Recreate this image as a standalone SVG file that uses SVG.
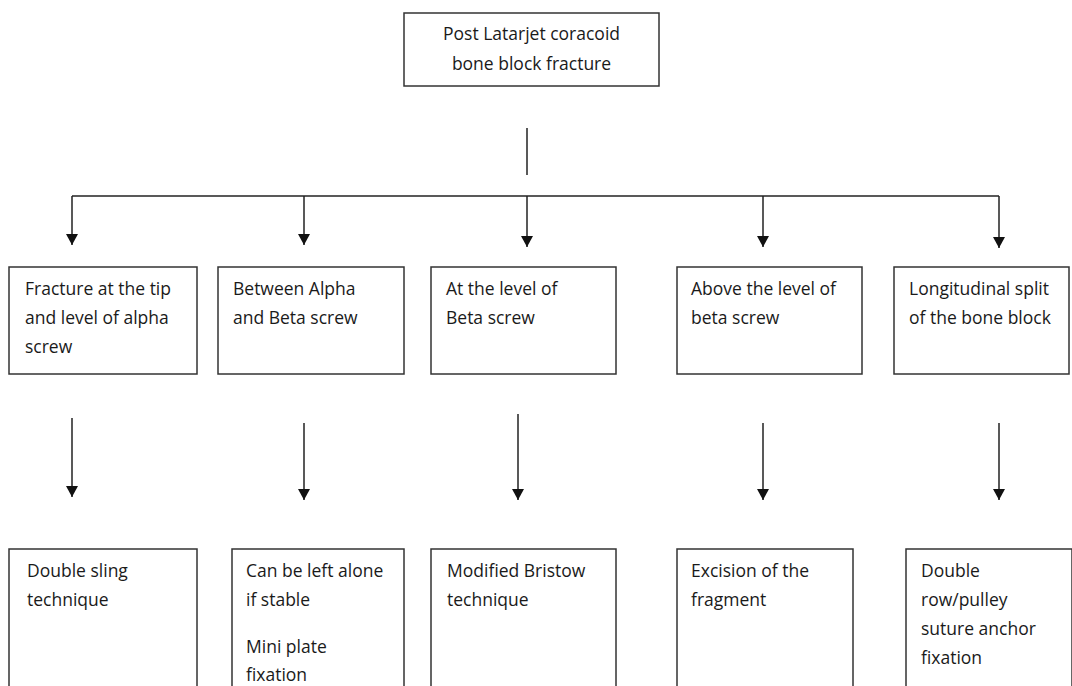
<svg xmlns="http://www.w3.org/2000/svg" width="1072" height="686" viewBox="0 0 1072 686">
<style>
.box{fill:#fff;stroke:#333;stroke-width:1.5}
.t{font-family:"Open Sans","Liberation Sans",sans-serif;font-size:17.5px;fill:#1a1a1a}
.c{text-anchor:middle}
.ln{fill:none;stroke:#222;stroke-width:1.5}
</style>
<defs>
<marker id="ah" markerWidth="12" markerHeight="12" refX="11" refY="6" orient="auto" markerUnits="userSpaceOnUse" viewBox="0 0 12 12">
<path d="M0,0 L11,6 L0,12 Z" fill="#111"/>
</marker>
</defs>
<rect width="1072" height="686" fill="#fff"/>
<g id="connectors">
<line class="ln" x1="527" y1="128" x2="527" y2="175"/>
<polyline class="ln" points="72,196 999,196"/>
<line class="ln" x1="72" y1="196" x2="72" y2="245" marker-end="url(#ah)"/>
<line class="ln" x1="304" y1="196" x2="304" y2="245" marker-end="url(#ah)"/>
<line class="ln" x1="527" y1="196" x2="527" y2="247" marker-end="url(#ah)"/>
<line class="ln" x1="763" y1="196" x2="763" y2="247" marker-end="url(#ah)"/>
<line class="ln" x1="999" y1="196" x2="999" y2="248" marker-end="url(#ah)"/>
<line class="ln" x1="72" y1="418" x2="72" y2="497" marker-end="url(#ah)"/>
<line class="ln" x1="304" y1="423" x2="304" y2="500" marker-end="url(#ah)"/>
<line class="ln" x1="518" y1="414" x2="518" y2="500" marker-end="url(#ah)"/>
<line class="ln" x1="763" y1="423" x2="763" y2="500" marker-end="url(#ah)"/>
<line class="ln" x1="999" y1="423" x2="999" y2="500" marker-end="url(#ah)"/>
</g>
<g id="root">
<rect class="box" x="404" y="13" width="255" height="73"/>
<text class="t c" x="531.5" y="40">Post Latarjet coracoid</text>
<text class="t c" x="531.5" y="70">bone block fracture</text>
</g>
<g id="n1">
<rect class="box" x="9" y="267" width="188" height="107"/>
<text class="t" x="25" y="295">Fracture at the tip</text>
<text class="t" x="25" y="324">and level of alpha</text>
<text class="t" x="25" y="353">screw</text>
</g>
<g id="n2">
<rect class="box" x="218" y="267" width="186" height="107"/>
<text class="t" x="233" y="295">Between Alpha</text>
<text class="t" x="233" y="324">and Beta screw</text>
</g>
<g id="n3">
<rect class="box" x="431" y="267" width="185" height="107"/>
<text class="t" x="446" y="295">At the level of</text>
<text class="t" x="446" y="324">Beta screw</text>
</g>
<g id="n4">
<rect class="box" x="677" y="267" width="185" height="107"/>
<text class="t" x="691" y="295">Above the level of</text>
<text class="t" x="691" y="324">beta screw</text>
</g>
<g id="n5">
<rect class="box" x="894" y="267" width="175" height="107"/>
<text class="t" x="909" y="295">Longitudinal split</text>
<text class="t" x="909" y="324">of the bone block</text>
</g>
<g id="m1">
<rect class="box" x="9" y="549" width="188" height="160"/>
<text class="t" x="27" y="577">Double sling</text>
<text class="t" x="27" y="606">technique</text>
</g>
<g id="m2">
<rect class="box" x="232" y="549" width="172" height="160"/>
<text class="t" x="246" y="577">Can be left alone</text>
<text class="t" x="246" y="606">if stable</text>
<text class="t" x="246" y="653">Mini plate</text>
<text class="t" x="246" y="681">fixation</text>
</g>
<g id="m3">
<rect class="box" x="431" y="549" width="185" height="160"/>
<text class="t" x="447" y="577">Modified Bristow</text>
<text class="t" x="447" y="606">technique</text>
</g>
<g id="m4">
<rect class="box" x="677" y="549" width="176" height="160"/>
<text class="t" x="691" y="577">Excision of the</text>
<text class="t" x="691" y="606">fragment</text>
</g>
<g id="m5">
<rect class="box" x="906" y="549" width="166" height="160"/>
<text class="t" x="921" y="577">Double</text>
<text class="t" x="921" y="606">row/pulley</text>
<text class="t" x="921" y="635">suture anchor</text>
<text class="t" x="921" y="664">fixation</text>
</g>
</svg>
